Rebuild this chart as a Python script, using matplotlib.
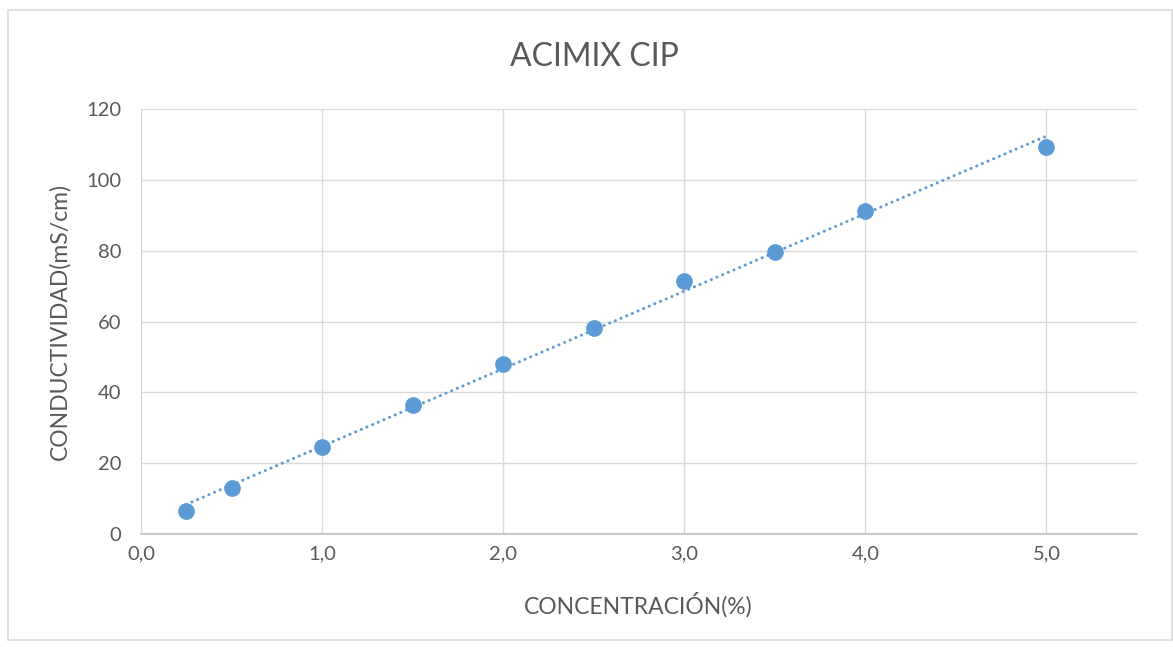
import numpy as np
import matplotlib
matplotlib.use("Agg")
import matplotlib.pyplot as plt
from matplotlib.patches import Rectangle
from matplotlib.ticker import FuncFormatter, MultipleLocator

concentracion = [0.25, 0.5, 1.0, 1.5, 2.0, 2.5, 3.0, 3.5, 4.0, 5.0]
conductividad = [6.5, 12.9, 24.5, 36.4, 48.0, 58.1, 71.5, 79.6, 91.2, 109.2]
x_ticks = [0, 1, 2, 3, 4, 5]
y_ticks = [0, 20, 40, 60, 80, 100, 120]
title = "ACIMIX CIP"
xlabel = "CONCENTRACIÓN(%)"
ylabel = "CONDUCTIVIDAD(mS/cm)"

plt.rcParams['font.family'] = ['Lato', 'DejaVu Sans']
txt = '#595959'
blue = '#5B9BD5'

fig = plt.figure(figsize=(11.73, 6.47), dpi=100)
fig.patches.append(Rectangle((8/1173, 7/647), 1 - 9/1173, 1 - 17/647,
                             transform=fig.transFigure, fill=False,
                             edgecolor='#D9D9D9', linewidth=1.2))
ax = fig.add_axes([141/1173, 113/647, (1137-141)/1173, (534-109)/647])

ax.set_xlim(0, 5.5)
ax.set_ylim(0, 120)
ax.set_xticks(x_ticks)
ax.set_yticks(y_ticks)
ax.xaxis.set_minor_locator(MultipleLocator(0.5))
ax.xaxis.set_major_formatter(FuncFormatter(lambda v, p: f"{v:.1f}".replace('.', ',')))
ax.grid(True, which='major', axis='x', color='#D9D9D9', linewidth=1)
ax.grid(True, which='major', axis='y', color='#D9D9D9', linewidth=1)
ax.set_axisbelow(True)
for s in ['top', 'right', 'left']:
    ax.spines[s].set_visible(False)
ax.spines['bottom'].set_color('#BFBFBF')
ax.spines['bottom'].set_linewidth(1.2)
ax.tick_params(axis='both', which='both', length=0, labelsize=14.5, labelcolor=txt)
ax.tick_params(axis='y', pad=14)
ax.tick_params(axis='x', pad=8)

# trendline (linear fit)
m, b = np.polyfit(concentracion, conductividad, 1)
xt = np.array([min(concentracion), max(concentracion)])
ax.plot(xt, m * xt + b, linestyle=(0, (0.01, 2.0)), color=blue, linewidth=2.2,
        dash_capstyle='round', zorder=2)

ax.plot(concentracion, conductividad, linestyle='none', marker='o', markersize=11,
        color=blue, zorder=3)

fig.text(594/1173, 1 - 57/647, title, ha='center', va='center', fontsize=23, color=txt)
fig.text(638/1173, 1 - 605/647, xlabel, ha='center', va='center', fontsize=16.5, color=txt)
fig.text(60/1173, 1 - 322/647, ylabel, ha='center', va='center', rotation=90,
         fontsize=16.5, color=txt)

fig.savefig("out.png", dpi=100)
